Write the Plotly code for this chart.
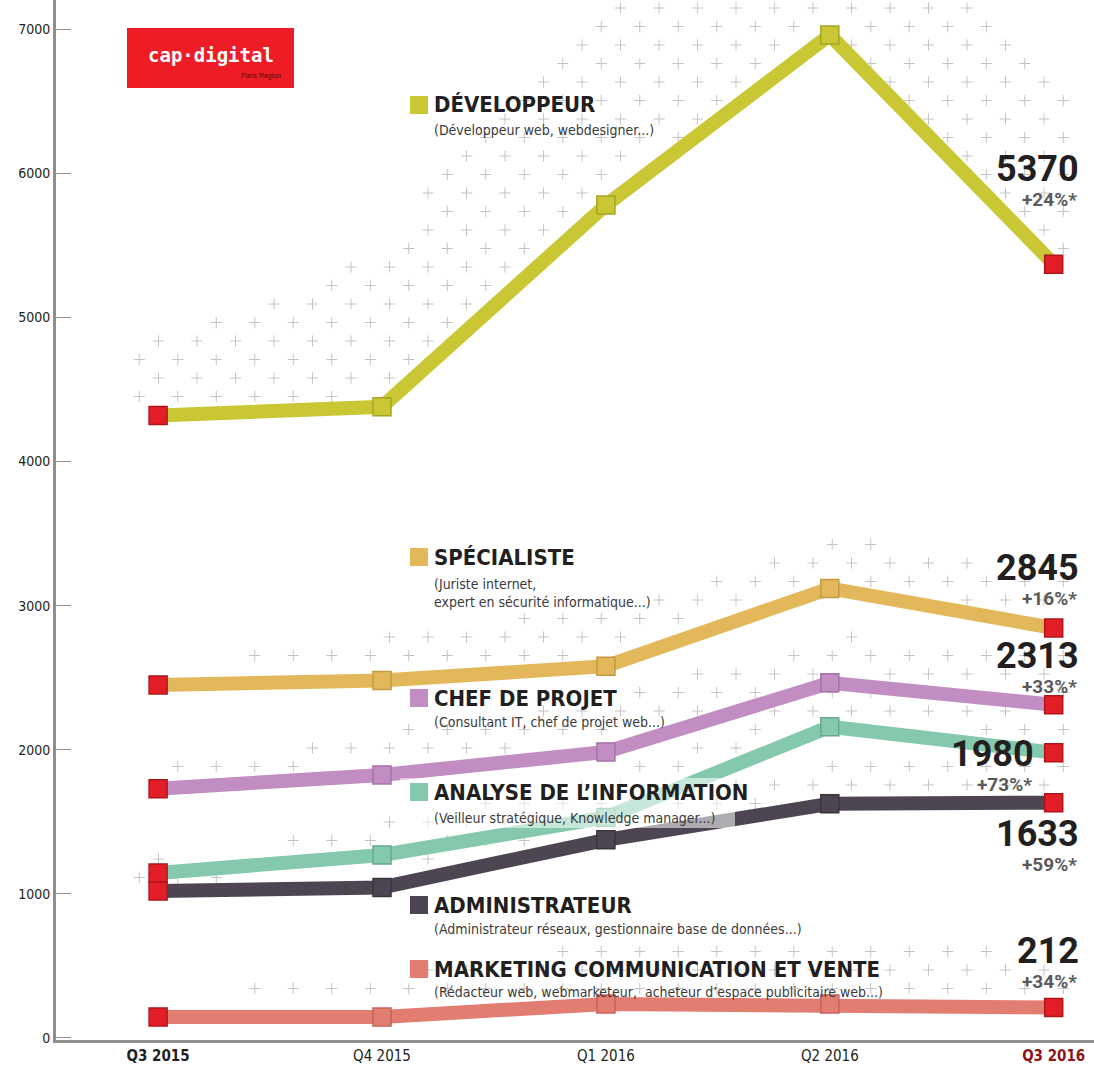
import numpy as np
import plotly.graph_objects as go

quarters = ["Q3 2015", "Q4 2015", "Q1 2016", "Q2 2016", "Q3 2016"]
developpeur = [4320, 4380, 5780, 6960, 5370]
specialiste = [2450, 2480, 2580, 3120, 2845]
chef_projet = [1730, 1825, 1985, 2465, 2313]
analyse = [1145, 1270, 1530, 2160, 1980]
administrateur = [1020, 1045, 1375, 1625, 1633]
marketing = [146, 146, 236, 236, 212]

names = ["DÉVELOPPEUR", "SPÉCIALISTE", "CHEF DE PROJET", "ANALYSE DE L’INFORMATION",
         "ADMINISTRATEUR", "MARKETING COMMUNICATION ET VENTE"]
subtitles = ["(Développeur web, webdesigner...)",
             "(Juriste internet,<br>expert en sécurité informatique...)",
             "(Consultant IT, chef de projet web...)",
             "(Veilleur stratégique, Knowledge manager...)",
             "(Administrateur réseaux, gestionnaire base de données...)",
             "(Rédacteur web, webmarketeur,  acheteur d’espace publicitaire web...)"]
growth = ["+24%*", "+16%*", "+33%*", "+73%*", "+59%*", "+34%*"]
colors = ["#c9c834", "#e2b85a", "#c28dc2", "#84c9ad", "#4d4652", "#e27d72"]
edge_colors = ["#a5a424", "#c49a40", "#a671a6", "#66ab8f", "#3a343e", "#c8625a"]
series = [developpeur, specialiste, chef_projet, analyse, administrateur, marketing]

W, H = 1094, 1069
L, R, T, B = 56, 0, 0, 29
PW, PH = W - L - R, H - T - B
XR = [-0.456, 4.18]
YR = [-14, 7203]

def px(x):
    return (x - L) / PW

def py(y):
    return 1 - (y - T) / PH

def to_dx(p):
    return XR[0] + (p - L) / PW * (XR[1] - XR[0])

def to_dy(p):
    return YR[0] + (1 - (p - T) / PH) * (YR[1] - YR[0])

ypp = (YR[1] - YR[0]) / PH  # data units per pixel

fig = go.Figure()

# decorative cross pattern above lines
bands = [190, 55, 50, 40, 40, 55]
cx, cy = [], []
xs_idx = np.arange(5)
row = 0
for yp in np.arange(8, 1030, 18.5):
    off = 19.25 if row % 2 else 0
    for xp in np.arange(120 + off, 1090, 38.5):
        dx = to_dx(xp)
        dy = to_dy(yp)
        if dx < -0.1 or dx > 4.1:
            continue
        keep = False
        for s, b in zip(series, bands):
            ly = np.interp(dx, xs_idx, s)
            dist = (dy - ly) / ypp
            if 12 < dist < b * (0.35 + 0.65 * min(1, (dx + 0.1) / 1.5)):
                keep = True
        if keep:
            cx.append(dx)
            cy.append(dy)
    row += 1
fig.add_trace(go.Scatter(x=cx, y=cy, mode="markers", hoverinfo="skip",
                         marker=dict(symbol="cross-thin", size=8,
                                     line=dict(color="#c4c4c4", width=1))))

for s, c, ec in zip(series, colors, edge_colors):
    fig.add_trace(go.Scatter(x=list(range(5)), y=s, mode="lines",
                             line=dict(color=c, width=14), hoverinfo="skip"))
    mcols = ["#e41e26"] + [c] * 3 + ["#e41e26"]
    lcols = ["#b0141b"] + [ec] * 3 + ["#b0141b"]
    fig.add_trace(go.Scatter(x=list(range(5)), y=s, mode="markers",
                             marker=dict(symbol="square", size=18, color=mcols,
                                         line=dict(width=1.5, color=lcols)), hoverinfo="skip"))

anns = []
shapes = []
cond = "DejaVu Sans Condensed, Liberation Sans Narrow, Arial Narrow, sans-serif"

# category labels
label_y = [105, 557, 698, 792, 905, 969]
sub_y = [130, 593, 722, 818, 929, 992]
for i, (n, sub, c) in enumerate(zip(names, subtitles, colors)):
    yl = label_y[i]
    shapes.append(dict(type="rect", xref="paper", yref="paper",
                       x0=px(410), x1=px(428), y0=py(yl + 9), y1=py(yl - 9),
                       fillcolor=c, line=dict(width=0)))
    anns.append(dict(x=px(432), y=py(yl), xref="paper", yref="paper", text=f"<b>{n}</b>",
                     showarrow=False, xanchor="left", yanchor="middle",
                     font=dict(family=cond, size=22, color="#231f20")))
    anns.append(dict(x=px(432), y=py(sub_y[i]), xref="paper", yref="paper", text=sub,
                     showarrow=False, xanchor="left", yanchor="middle", align="left",
                     font=dict(family=cond, size=14, color="#3a3a3a")))

# white translucent band behind Analyse label
shapes.insert(0, dict(type="rect", xref="paper", yref="paper", layer="above",
                      x0=px(400), x1=px(735), y0=py(828), y1=py(778),
                      fillcolor="rgba(255,255,255,0.55)", line=dict(width=0)))

# right-side values
num_y = [169, 568, 656, 754, 834, 951]
num_r = [1080, 1080, 1080, 1035, 1080, 1080]
for i, s in enumerate(series):
    anns.append(dict(x=px(num_r[i]), y=py(num_y[i]), xref="paper", yref="paper",
                     text=f"<b>{s[-1]}</b>", showarrow=False, xanchor="right", yanchor="middle",
                     borderpad=0, font=dict(family="Roboto", size=36, color="#231f20")))
    anns.append(dict(x=px(num_r[i] - 2), y=py(num_y[i] + 30), xref="paper", yref="paper",
                     text=f"<b>{growth[i]}</b>", showarrow=False, xanchor="right", yanchor="middle",
                     borderpad=0, font=dict(family="Roboto", size=19, color="#5a5a5a")))

# logo
shapes.append(dict(type="rect", xref="paper", yref="paper",
                   x0=px(127), x1=px(294), y0=py(88), y1=py(28),
                   fillcolor="#ee1d25", line=dict(width=0)))
anns.append(dict(x=px(211), y=py(55), xref="paper", yref="paper", text="<b>cap·digital</b>",
                 showarrow=False, xanchor="center", yanchor="middle",
                 font=dict(family="DejaVu Sans Mono", size=19, color="white")))
anns.append(dict(x=px(283), y=py(76), xref="paper", yref="paper", text="Paris Region",
                 showarrow=False, xanchor="right", yanchor="middle",
                 font=dict(family="Liberation Sans", size=7, color="#5a0a0a")))

ticktext = ["<b>Q3 2015</b>", "Q4 2015", "Q1 2016", "Q2 2016",
            "<b><span style='color:#8e1418'>Q3 2016</span></b>"]

fig.update_layout(
    width=W, height=H, margin=dict(l=L, r=R, t=T, b=B),
    paper_bgcolor="white", plot_bgcolor="white", showlegend=False,
    shapes=shapes, annotations=anns,
    xaxis=dict(range=XR, tickmode="array", tickvals=list(range(5)), ticktext=ticktext,
               showgrid=False, zeroline=False, showline=True, linecolor="#8f8f8f",
               linewidth=3, ticks="", tickfont=dict(family=cond, size=15, color="#231f20")),
    yaxis=dict(range=YR, tickvals=[0, 1000, 2000, 3000, 4000, 5000, 6000, 7000],
               showgrid=False, zeroline=False, showline=True, linecolor="#8f8f8f",
               linewidth=3, ticks="inside", ticklen=15, tickcolor="#8f8f8f", tickwidth=1,
               tickfont=dict(family=cond, size=14, color="#231f20")),
)

fig.write_html("out.html", config={"displayModeBar": False},
               post_script="document.body.style.margin='0px';")
